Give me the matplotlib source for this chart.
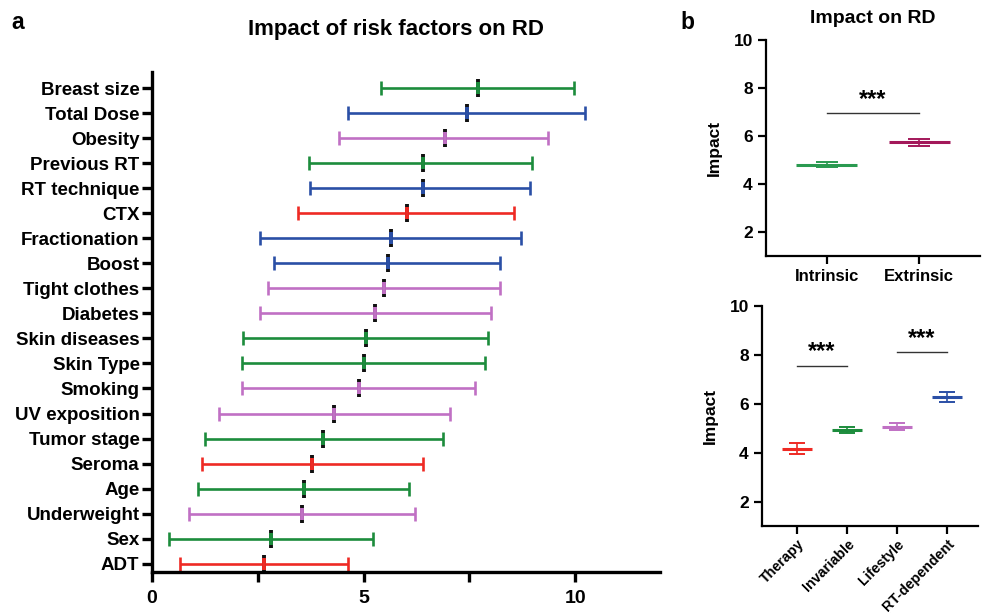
import numpy as np
import matplotlib
matplotlib.use('Agg')
from matplotlib import pyplot as plt

plt.rcParams['font.family'] = ['Liberation Sans', 'DejaVu Sans']
plt.rcParams['font.weight'] = 'bold'

# panel a: risk factors, bottom to top
factors = ['ADT', 'Sex', 'Underweight', 'Age', 'Seroma', 'Tumor stage', 'UV exposition',
           'Smoking', 'Skin Type', 'Skin diseases', 'Diabetes', 'Tight clothes', 'Boost',
           'Fractionation', 'CTX', 'RT technique', 'Previous RT', 'Obesity', 'Total Dose',
           'Breast size']
low = [0.66, 0.40, 0.88, 1.09, 1.18, 1.26, 1.59, 2.13, 2.13, 2.16, 2.56, 2.73, 2.89,
       2.56, 3.46, 3.74, 3.72, 4.41, 4.64, 5.40]
mean = [2.65, 2.80, 3.55, 3.60, 3.79, 4.05, 4.31, 4.88, 5.00, 5.05, 5.28, 5.47, 5.57,
        5.64, 6.02, 6.40, 6.40, 6.92, 7.44, 7.70]
high = [4.62, 5.21, 6.21, 6.07, 6.40, 6.87, 7.04, 7.63, 7.87, 7.94, 8.01, 8.22, 8.22,
        8.72, 8.55, 8.93, 8.98, 9.36, 10.24, 9.98]
group = ['Therapy', 'Invariable', 'Lifestyle', 'Invariable', 'Therapy', 'Invariable',
         'Lifestyle', 'Lifestyle', 'Invariable', 'Invariable', 'Lifestyle', 'Lifestyle',
         'RT', 'RT', 'Therapy', 'RT', 'Invariable', 'Lifestyle', 'RT', 'Invariable']

# panel b top
origin = ['Intrinsic', 'Extrinsic']
origin_mean = [4.80, 5.73]
origin_low = [4.70, 5.58]
origin_high = [4.90, 5.88]

# panel b bottom
cats = ['Therapy', 'Invariable', 'Lifestyle', 'RT-dependent']
cat_mean = [4.17, 4.94, 5.07, 6.27]
cat_low = [3.95, 4.81, 4.92, 6.07]
cat_high = [4.38, 5.07, 5.22, 6.47]

colors = {'Therapy': '#ee2a24', 'Invariable': '#1c8c3c', 'Lifestyle': '#c070c4', 'RT': '#2a4fa6'}
origin_colors = ['#2a9a50', '#a3185a']
cat_colors = ['#ee2a24', '#1c8c3c', '#c070c4', '#2a4fa6']

fig = plt.figure(figsize=(9.82, 6.13), dpi=100)

# ---- panel a
ax = fig.add_axes([0.1548, 0.0669, 0.5172, 0.8156])
ypos = np.arange(len(factors))
for i in range(len(factors)):
    c = colors[group[i]]
    ax.errorbar(mean[i], ypos[i], xerr=[[mean[i] - low[i]], [high[i] - mean[i]]],
                fmt='none', ecolor=c, elinewidth=1.9, capsize=5, capthick=1.9)
    ax.plot(mean[i], ypos[i], marker='|', markersize=13, mew=2.8, color='#111111')
    ax.plot(mean[i], ypos[i], marker='|', markersize=9, mew=2.8, color=c)
ax.set_xlim(0, 12)
ax.set_ylim(-0.33, 19.64)
ax.set_yticks(ypos)
ax.set_yticklabels(factors, fontsize=13.5, fontweight='bold')
ax.set_xticks([0, 5, 10])
ax.set_xticklabels(['0', '5', '10'], fontsize=14, fontweight='bold')
ax.set_xticks([2.5, 7.5], minor=True)
for s in ['top', 'right']:
    ax.spines[s].set_visible(False)
for s in ['left', 'bottom']:
    ax.spines[s].set_linewidth(2.4)
ax.tick_params(axis='both', which='both', width=2.4, length=7, direction='out')
ax.tick_params(axis='y', pad=2)
ax.tick_params(axis='x', pad=6)
ax.set_title('Impact of risk factors on RD', fontsize=16, fontweight='bold', pad=27, x=0.48)

fig.text(0.012, 0.952, 'a', fontsize=16.5, fontweight='bold')
fig.text(0.693, 0.952, 'b', fontsize=16.5, fontweight='bold')


def small_panel(rect, labels, m, lo, hi, cols, xlim, rot):
    a = fig.add_axes(rect)
    x = np.arange(len(labels))
    half = 0.33 if len(labels) == 2 else 0.3
    for j in range(len(labels)):
        a.errorbar(x[j], m[j], yerr=[[m[j] - lo[j]], [hi[j] - m[j]]], fmt='none',
                   ecolor=cols[j], elinewidth=1.2, capsize=8 if len(labels) == 2 else 6,
                   capthick=1.4)
        a.plot([x[j] - half, x[j] + half], [m[j], m[j]],
               color=cols[j], lw=2.2, solid_capstyle='butt')
    a.set_xlim(*xlim)
    a.set_ylim(1, 10)
    a.set_yticks([2, 4, 6, 8, 10])
    a.set_yticklabels(['2', '4', '6', '8', '10'], fontsize=12.5, fontweight='bold')
    a.set_xticks(x)
    if rot:
        a.set_xticklabels(labels, fontsize=10.3, fontweight='bold', rotation=45,
                          ha='right', rotation_mode='anchor')
    else:
        a.set_xticklabels(labels, fontsize=12, fontweight='bold')
    a.set_ylabel('Impact', fontsize=12.5, fontweight='bold', labelpad=8)
    for s in ['top', 'right']:
        a.spines[s].set_visible(False)
    for s in ['left', 'bottom']:
        a.spines[s].set_linewidth(1.6)
    a.tick_params(axis='both', width=1.6, length=6)
    return a


axt = small_panel([0.780, 0.5824, 0.218, 0.3523], origin, origin_mean, origin_low,
                  origin_high, origin_colors, (-0.66, 1.66), False)
axt.set_title('Impact on RD', fontsize=14, fontweight='bold', pad=12)
axt.plot([0, 1], [6.95, 6.95], color='#333333', lw=1)
axt.text(0.5, 7.05, '***', ha='center', va='bottom', fontsize=17, fontweight='bold')

axb = small_panel([0.776, 0.1419, 0.220, 0.3589], cats, cat_mean, cat_low, cat_high,
                  cat_colors, (-0.7, 3.62), True)
axb.tick_params(axis='x', pad=2)
axb.plot([0, 1], [7.55, 7.55], color='#333333', lw=1)
axb.text(0.5, 7.65, '***', ha='center', va='bottom', fontsize=17, fontweight='bold')
axb.plot([2, 3], [8.1, 8.1], color='#333333', lw=1)
axb.text(2.5, 8.2, '***', ha='center', va='bottom', fontsize=17, fontweight='bold')

fig.savefig('out.png', dpi=100)
